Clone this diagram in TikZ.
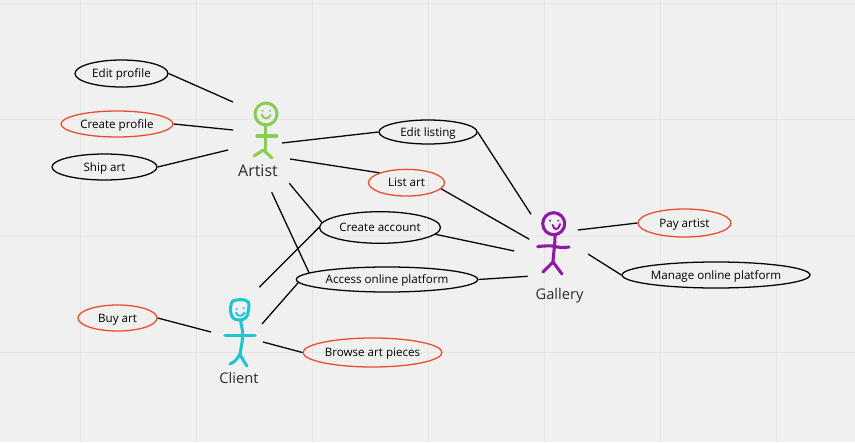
\documentclass[tikz,border=0pt]{standalone}
\usepackage{fontspec}
\setmainfont{Open Sans}
\usetikzlibrary{shapes.geometric}
\definecolor{bgc}{HTML}{F0F0F0}
\definecolor{gridc}{HTML}{E5E5E5}
\definecolor{redc}{HTML}{EA4B2C}
\definecolor{artistc}{HTML}{8CCC52}
\definecolor{clientc}{HTML}{1FC6D2}
\definecolor{galleryc}{HTML}{8D19A6}
\definecolor{labelc}{HTML}{2B2B2B}
\tikzset{
  usecase/.style={ellipse,draw=#1,line width=0.95pt,inner sep=0pt,text=black,text height=6.2pt,text depth=0pt,font=\fontsize{8.7}{10}\selectfont},
  usecase/.default=black,
  link/.style={draw=black,line width=0.95pt},
  stick/.style={line width=2.3pt,line cap=round,line join=round},
  thin stick/.style={line width=1.5pt,line cap=round,line join=round},
  actorlabel/.style={text=labelc,inner sep=0pt}
}
\begin{document}
\begin{tikzpicture}[x=0.75pt,y=-0.75pt]
\useasboundingbox (0,0) rectangle (855,442);
\fill[bgc] (0,0) rectangle (855,442);
\foreach \gx in {80,196,312,428,544,660,776} \draw[gridc,line width=0.75pt] (\gx,0) -- (\gx,442);
\foreach \gy in {4,120,236,352} \draw[gridc,line width=0.75pt] (0,\gy) -- (855,\gy);

% use cases
\node[usecase,minimum width=69.75pt,minimum height=20.25pt] (ep) at (121.5,73.5) {Edit profile};
\node[usecase=redc,minimum width=84pt,minimum height=19.5pt] (cp) at (117,124) {Create profile};
\node[usecase,minimum width=78.75pt,minimum height=19.5pt] (sa) at (104.5,167) {Ship art};
\node[usecase,minimum width=73.5pt,minimum height=18pt] (el) at (428,132) {Edit listing};
\node[usecase=redc,minimum width=57pt,minimum height=20pt] (la) at (406.5,182.7) {List art};
\node[usecase,minimum width=90.75pt,minimum height=23.7pt] (ca) at (380,227.5) {Create account};
\node[usecase,minimum width=136pt,minimum height=18.75pt] (ao) at (387,279.5) {Access online platform};
\node[usecase=redc,minimum width=59.25pt,minimum height=19.5pt] (ba) at (117.5,318) {Buy art};
\node[usecase=redc,minimum width=104.25pt,minimum height=21.75pt] (bp) at (372.5,352.5) {Browse art pieces};
\node[usecase=redc,minimum width=69.75pt,minimum height=21pt] (pa) at (684.5,223) {Pay artist};
\node[usecase,minimum width=141pt,minimum height=19.5pt] (mo) at (716,275) {Manage online platform};

% actor labels
\node[actorlabel,font=\fontsize{12}{14}\selectfont] (artist) at (258,171) {Artist};
\node[actorlabel,font=\fontsize{11}{13}\selectfont] (client) at (239,378) {Client};
\node[actorlabel,font=\fontsize{11}{13}\selectfont] (gallery) at (559.5,296) {Gallery};

% connector ends at the actors
\coordinate (a1) at (233,102);
\coordinate (a2) at (233,130);
\coordinate (a3) at (228,150);
\coordinate (a4) at (282,143);
\coordinate (a5) at (290,159);
\coordinate (a6) at (289.3,183.3);
\coordinate (a7) at (271.7,192.3);
\coordinate (c1) at (259.3,287.3);
\coordinate (c2) at (262,324);
\coordinate (c3) at (211,332);
\coordinate (c4) at (263,342);
\coordinate (g1) at (531,214.3);
\coordinate (g2) at (529.3,239.3);
\coordinate (g3) at (514.3,251);
\coordinate (g4) at (527.7,276.3);
\coordinate (g5) at (578,230);
\coordinate (g6) at (588,254);

% connectors
\draw[link] (ep.east) -- (a1);
\draw[link] (cp.east) -- (a2);
\draw[link] (sa.east) -- (a3);
\draw[link] (a4) -- (el.west);
\draw[link] (a5) -- (la.160);
\draw[link] (a6) -- (ca.175);
\draw[link] (a7) -- (ao.175);
\draw[link] (c1) -- (ca.west);
\draw[link] (c2) -- (ao.182.6);
\draw[link] (ba.east) -- (c3);
\draw[link] (c4) -- (bp.west);
\draw[link] (el.east) -- (g1);
\draw[link] (la.-10) -- (g2);
\draw[link] (ca.-7.5) -- (g3);
\draw[link] (ao.east) -- (g4);
\draw[link] (g5) -- (pa.west);
\draw[link] (g6) -- (mo.west);

% Artist figure
\begin{scope}[artistc]
\draw[stick] (266,114) circle (11);
\draw[stick] (265.7,125) -- (265.7,150);
\draw[stick] (257,136) -- (277,136);
\draw[stick] (254,156) -- (263.5,150) -- (272,158);
\draw[thin stick] (261.7,114.5) .. controls (263,119) and (268,120) .. (270.7,115);
\fill (262.7,110.7) circle (1.1);
\fill (270,110.7) circle (1.1);
\end{scope}

% Client figure
\begin{scope}[clientc]
\draw[stick] (232.7,301) .. controls (237,299.5) and (241,299.5) .. (245,300) .. controls (248,301) and (249.5,303) .. (249,305)
  .. controls (248.5,310) and (248,314) .. (246.7,316.7) .. controls (244,319.5) and (242,320) .. (240,320)
  .. controls (237,320) and (234,319.5) .. (233,318) .. controls (231,315) and (230,311) .. (230.7,307) .. controls (231,304) and (231.5,302) .. (232.7,301);
\draw[stick] (240.7,320) .. controls (241,326) and (243,330) .. (242.7,335) .. controls (242.5,342) and (241,348) .. (240,354);
\draw[stick] (225,335.7) -- (255,335.7);
\draw[stick] (230,364) .. controls (235,362) and (238,358) .. (240,354) .. controls (242,358) and (244,362) .. (247,366);
\draw[thin stick] (236,312.5) .. controls (237,317) and (243,317) .. (244.5,312.5);
\fill (236.7,309) circle (1.1);
\fill (244,308.3) circle (1.1);
\end{scope}

% Gallery figure
\begin{scope}[galleryc]
\draw[stick] (553.7,223.7) circle (11);
\draw[stick] (555,235) .. controls (555,245) and (553.5,253) .. (553,262);
\draw[stick] (537.7,246.7) .. controls (545,245.5) and (550,246) .. (553,246) .. controls (558,247.5) and (564,248) .. (569,247);
\draw[stick] (543,272) -- (553,262) -- (562,274);
\draw[thin stick] (552.7,225) .. controls (554,230.5) and (558,231) .. (560,224);
\fill (550,220.7) circle (1.1);
\fill (558.3,220.7) circle (1.1);
\end{scope}
\end{tikzpicture}
\end{document}
